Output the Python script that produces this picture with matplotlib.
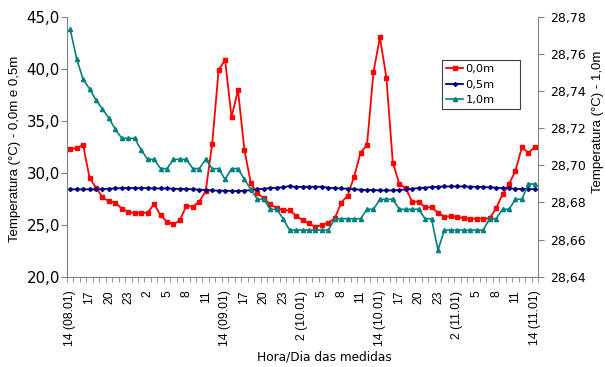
import numpy as np
import matplotlib.pyplot as plt

plt.rcParams['font.family'] = ['Liberation Sans', 'DejaVu Sans']

# leituras de hora em hora, de 14h (08.01) ate 14h (11.01)
horas = ['14 (08.01)', '17', '20', '23', '2', '5', '8', '11',
         '14 (09.01)', '17', '20', '23', '2 (10.01)', '5', '8', '11',
         '14 (10.01)', '17', '20', '23', '2 (11.01)', '5', '8', '11',
         '14 (11.01)']

t00 = [32.28, 32.37, 32.66, 29.49, 28.56, 27.63, 27.25, 27.12, 26.54, 26.25,
       26.09, 26.15, 26.15, 26.99, 25.90, 25.29, 25.04, 25.42, 26.83, 26.73,
       27.21, 28.24, 32.76, 39.87, 40.84, 35.36, 37.92, 32.18, 28.98, 28.02,
       27.54, 26.96, 26.60, 26.38, 26.38, 25.87, 25.45, 25.13, 24.78, 24.97,
       25.19, 25.61, 27.12, 27.79, 29.62, 31.92, 32.66, 39.68, 43.02, 39.13,
       30.96, 28.94, 28.50, 27.21, 27.21, 26.67, 26.67, 26.15, 25.77, 25.80,
       25.77, 25.61, 25.58, 25.58, 25.58, 25.60, 26.57, 27.92, 28.91, 30.16,
       32.44, 31.93, 32.44]

t05 = [28.40, 28.40, 28.40, 28.40, 28.40, 28.43, 28.46, 28.49, 28.52, 28.52,
       28.52, 28.52, 28.52, 28.49, 28.49, 28.49, 28.46, 28.43, 28.43, 28.40,
       28.37, 28.33, 28.30, 28.27, 28.27, 28.24, 28.24, 28.27, 28.33, 28.40,
       28.46, 28.52, 28.56, 28.59, 28.72, 28.62, 28.65, 28.65, 28.65, 28.65,
       28.56, 28.52, 28.49, 28.46, 28.40, 28.37, 28.33, 28.33, 28.30, 28.30,
       28.30, 28.33, 28.40, 28.46, 28.52, 28.56, 28.62, 28.65, 28.68, 28.68,
       28.68, 28.68, 28.65, 28.65, 28.62, 28.59, 28.56, 28.52, 28.49, 28.46,
       28.43, 28.43, 28.40]

t10 = [28.7732, 28.7572, 28.7463, 28.7411, 28.7351, 28.7303, 28.7253, 28.7193,
       28.7145, 28.7145, 28.7145, 28.7082, 28.7032, 28.7032, 28.6982, 28.6982,
       28.7032, 28.7032, 28.7032, 28.6982, 28.6982, 28.7032, 28.6982, 28.6982,
       28.6924, 28.6982, 28.6982, 28.6924, 28.6870, 28.6817, 28.6817, 28.6763,
       28.6763, 28.6712, 28.6651, 28.6651, 28.6651, 28.6651, 28.6651, 28.6651,
       28.6651, 28.6712, 28.6712, 28.6712, 28.6712, 28.6712, 28.6763, 28.6763,
       28.6817, 28.6817, 28.6817, 28.6763, 28.6763, 28.6763, 28.6763, 28.6712,
       28.6712, 28.6544, 28.6651, 28.6651, 28.6651, 28.6651, 28.6651, 28.6651,
       28.6651, 28.6712, 28.6712, 28.6763, 28.6763, 28.6817, 28.6817, 28.6899,
       28.6899]

n = len(t00)
x = np.arange(n)
cinza = '#808080'
largo = ['DejaVu Sans']

fig = plt.figure(figsize=(6.05, 3.67), dpi=100)
ax = fig.add_axes([67 / 605, 1 - 276.7 / 367, 471 / 605, 260 / 367])
ax2 = ax.twinx()

l1, = ax.plot(x, t00, color='#ff0000', lw=1.3, marker='s', ms=3.3,
              label='0,0m')
l2, = ax.plot(x, t05, color='#000080', lw=1.3, marker='D', ms=2.0,
              label='0,5m')
l3, = ax2.plot(x, t10, color='#008080', lw=1.2, marker='^', ms=3.0,
               label='1,0m')

ax.set_xlim(-0.5, n - 0.5)
ax.set_ylim(20, 45)
ax2.set_ylim(28.64, 28.78)

lt = np.arange(20, 45.1, 5)
ax.set_yticks(lt)
ax.set_yticklabels([('%.1f' % v).replace('.', ',') for v in lt],
                   family=largo, fontsize=10.8)
rt = np.arange(28.64, 28.781, 0.02)
ax2.set_yticks(rt)
ax2.set_yticklabels([('%.2f' % v).replace('.', ',') for v in rt],
                    family=largo, fontsize=9)

# rotulos a cada 3 horas, tracos entre cada leitura
ax.set_xticks(np.arange(0, n, 3))
ax.set_xticklabels(horas, rotation=90, fontsize=8.7)
ax.set_xticks(np.arange(-0.5, n, 1), minor=True)
ax.tick_params(axis='x', which='major', length=0, pad=10)
ax.tick_params(axis='x', which='minor', length=3.5, color=cinza)

for a in (ax, ax2):
    a.spines['top'].set_visible(False)
    for s in ('left', 'right', 'bottom'):
        a.spines[s].set_color(cinza)
ax.tick_params(axis='y', length=4, color=cinza, pad=1)
ax2.tick_params(axis='y', length=4, color=cinza, pad=5)
ax.spines['right'].set_visible(False)
ax2.spines['left'].set_visible(False)
ax2.spines['bottom'].set_visible(False)

ax.set_ylabel('Temperatura (°C) - 0,0m e 0,5m', fontsize=9.5, va='center')
ax.yaxis.set_label_coords(-0.110, 0.49)
ax2.set_ylabel('Temperatura (°C) - 1,0m', fontsize=9.5, va='center')
ax2.yaxis.set_label_coords(1.127, 0.595)
ax.set_xlabel('Hora/Dia das medidas', family=largo, fontsize=8.7, va='top')
ax.xaxis.set_label_coords(0.546, -0.283)

leg = ax2.legend([l1, l2, l3], ['0,0m', '0,5m', '1,0m'], loc='upper left',
                 bbox_to_anchor=(0.7962, 0.6258, 0.1656, 0.2077), mode='expand',
                 borderaxespad=0, prop={'family': largo, 'size': 8.2},
                 fancybox=False, framealpha=1, edgecolor='#404040',
                 handlelength=1.5, handletextpad=0.2, labelspacing=0.5,
                 borderpad=0.35)
leg.get_frame().set_linewidth(0.8)

fig.savefig('out.png', dpi=100)
